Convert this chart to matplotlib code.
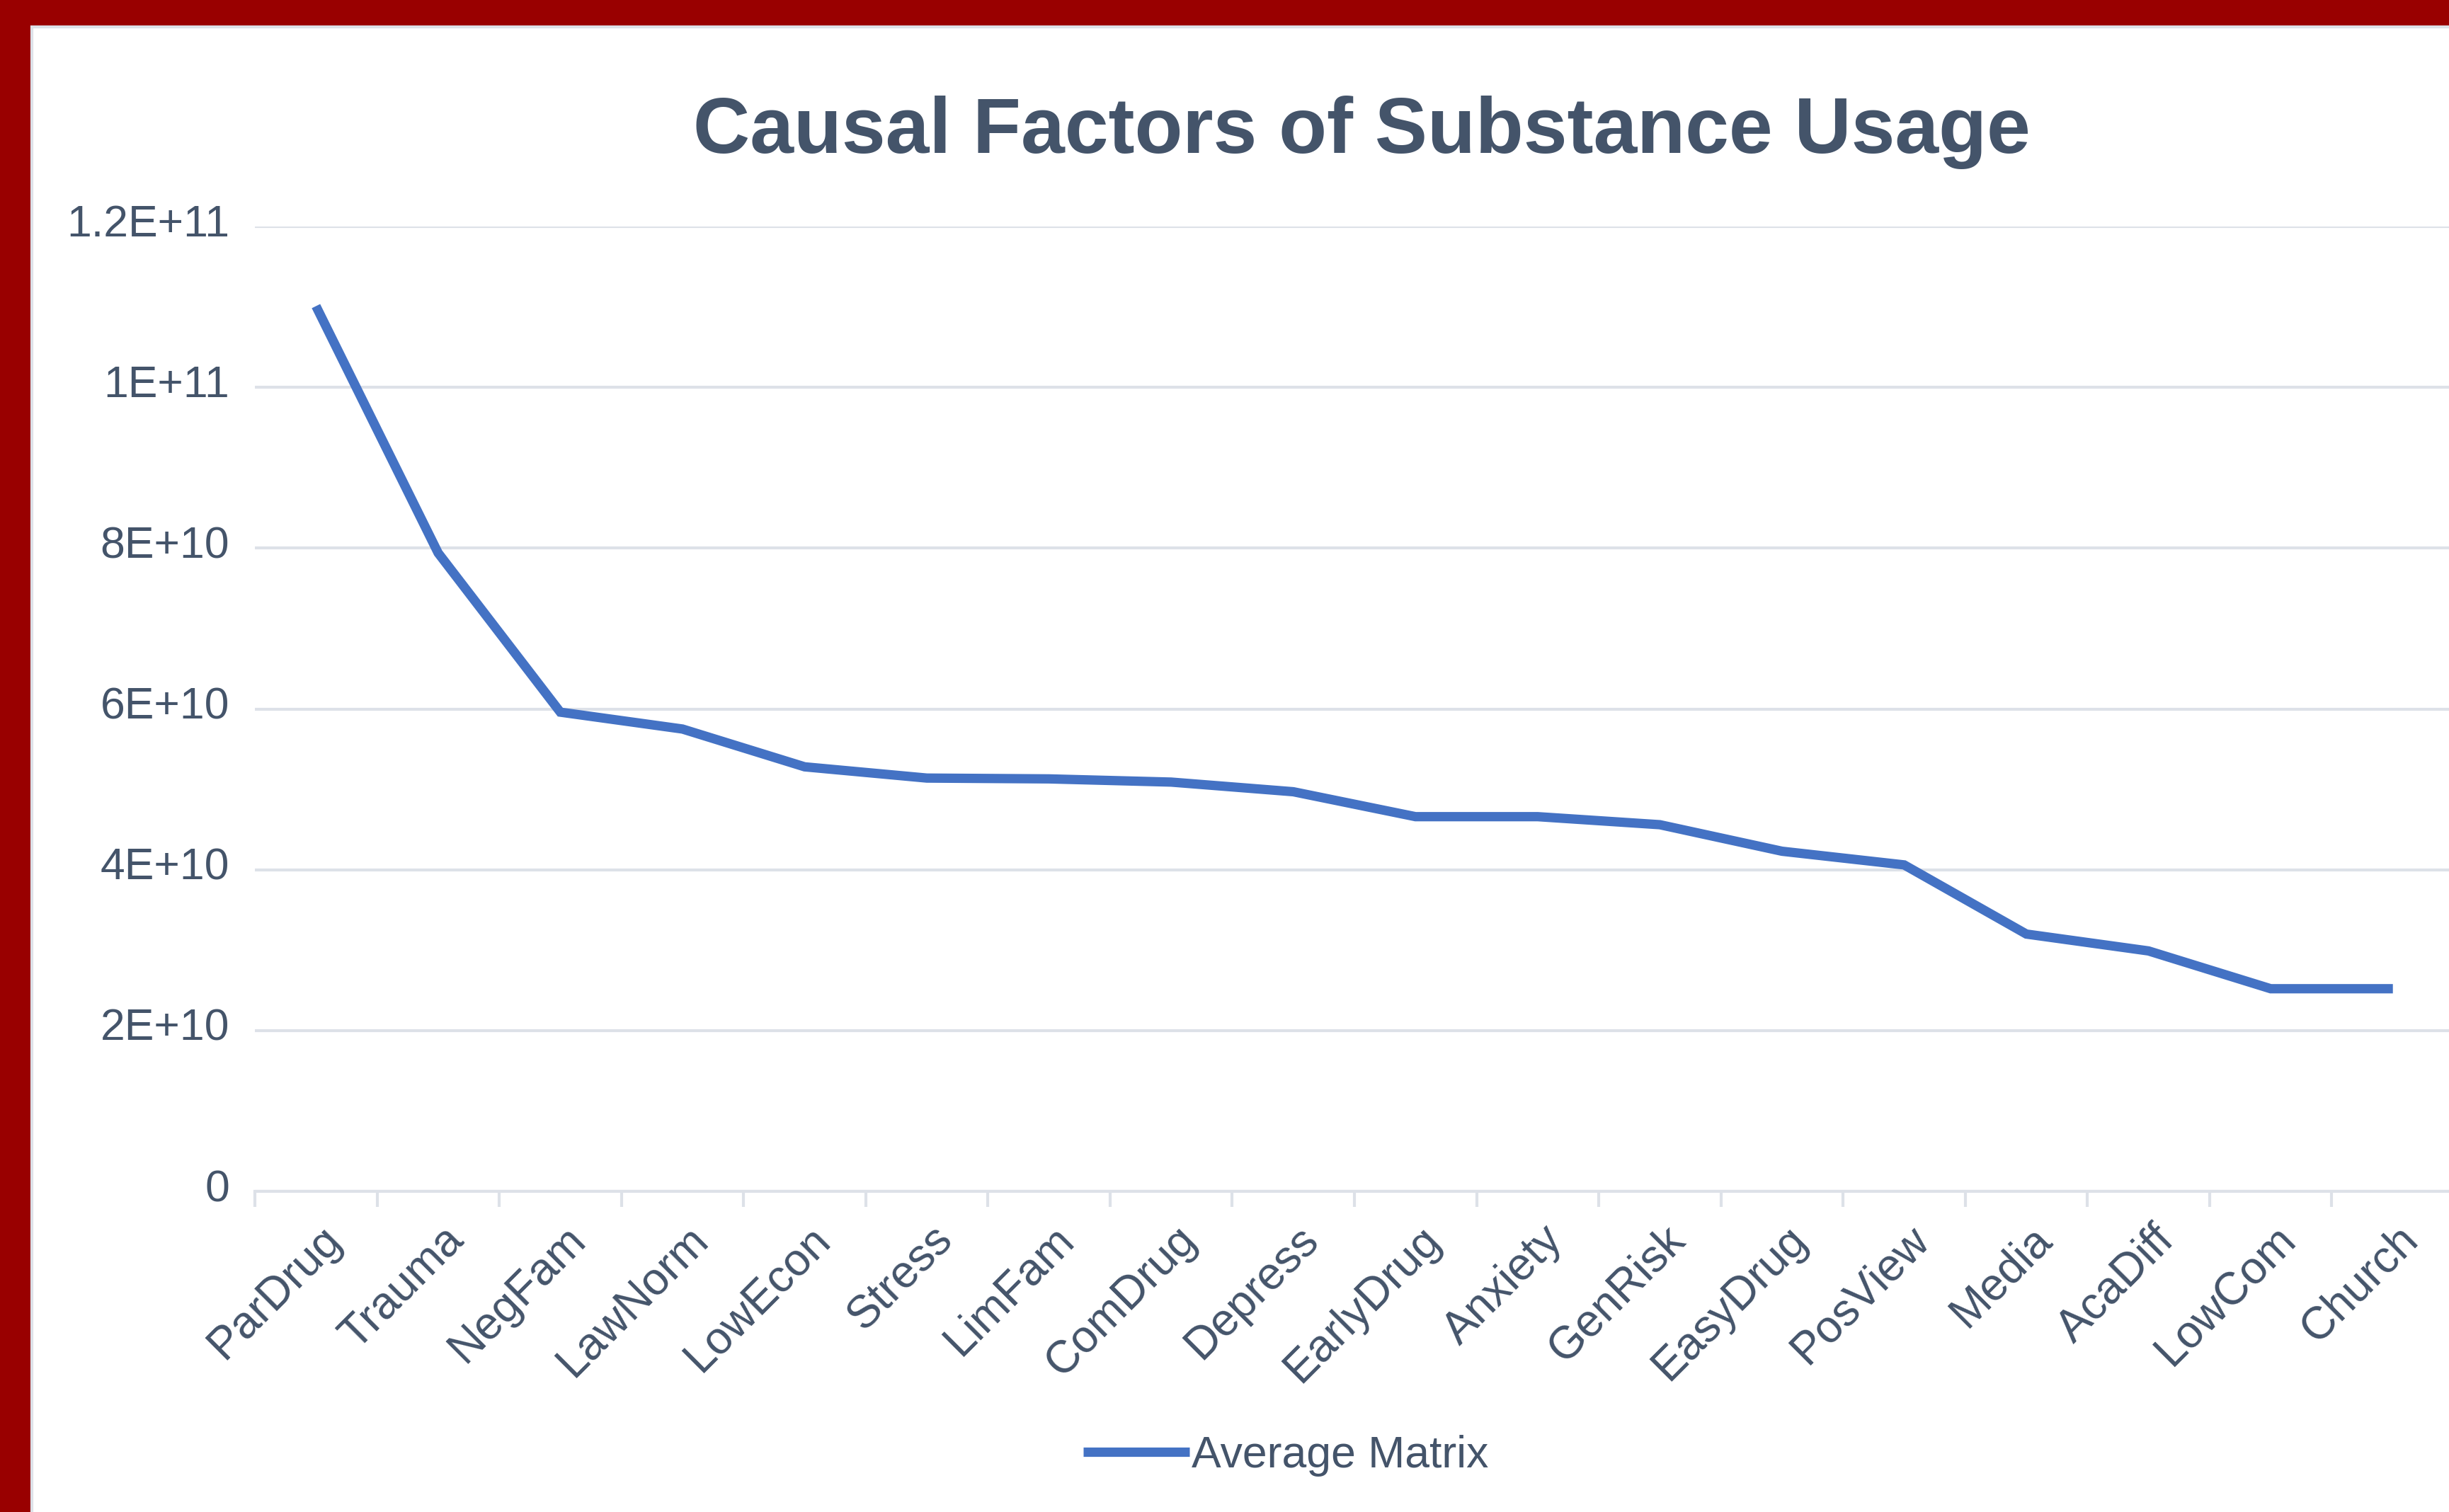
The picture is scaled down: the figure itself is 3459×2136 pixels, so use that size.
import matplotlib
matplotlib.use('Agg')
import matplotlib.pyplot as plt
import numpy as np
from matplotlib.patches import Rectangle
from matplotlib.transforms import ScaledTranslation

# causal factors, ordered as in the chart
factors = ['ParDrug', 'Trauma', 'NegFam', 'LawNorm', 'LowEcon', 'Stress', 'LimFam', 'ComDrug',
           'Depress', 'EarlyDrug', 'Anxiety', 'GenRisk', 'EasyDrug', 'PosView', 'Media',
           'AcaDiff', 'LowCom', 'Church']
average_matrix = [1.101e11, 7.94e10, 5.96e10, 5.75e10, 5.28e10, 5.14e10, 5.13e10, 5.09e10,
                  4.97e10, 4.66e10, 4.66e10, 4.56e10, 4.23e10, 4.06e10, 3.20e10,
                  2.99e10, 2.52e10, 2.52e10]
y_ticks = [0, 2e10, 4e10, 6e10, 8e10, 1e11, 1.2e11]
y_tick_labels = ['0', '2E+10', '4E+10', '6E+10', '8E+10', '1E+11', '1.2E+11']

text_col = '#44546A'
grid_col = '#DDE1E8'
line_col = '#4472C4'
plt.rcParams['font.family'] = ['Liberation Sans', 'DejaVu Sans']

W, H = 3459, 2136
fig = plt.figure(figsize=(W / 100, H / 100), dpi=100)
fig.patch.set_facecolor('#990000')
# white chart panel inside the red frame
fig.add_artist(Rectangle((45 / W, -0.01), 1.0, 1 - 38 / H + 0.01, transform=fig.transFigure,
                         facecolor='white', edgecolor=grid_col, linewidth=3, zorder=0))

ax = fig.add_axes([360 / W, 1 - 1683 / H, (3466 - 360) / W, (1683 - 320) / H])
ax.set_facecolor('none')
x = np.arange(len(factors))
ax.plot(x, average_matrix, color=line_col, linewidth=9.5, solid_joinstyle='miter',
        solid_capstyle='butt', label='Average Matrix', zorder=3)

ax.set_xlim(-0.5, len(factors) - 0.5)
ax.set_ylim(0, 1.2e11)
ax.set_yticks(y_ticks)
ax.set_yticklabels(y_tick_labels)
ax.grid(axis='y', color=grid_col, linewidth=3)
for s in ['left', 'right', 'top']:
	ax.spines[s].set_visible(False)
ax.spines['bottom'].set_color(grid_col)
ax.spines['bottom'].set_linewidth(3)

ax.set_xticks(x)
ax.set_xticklabels(factors, rotation=45, ha='right', rotation_mode='anchor')
ax.set_xticks(np.arange(-0.5, len(factors) + 0.5, 1), minor=True)
ax.tick_params(axis='x', which='major', length=0, pad=27, labelsize=46, labelcolor=text_col)
ax.tick_params(axis='x', which='minor', length=16, width=3, color=grid_col)
ax.tick_params(axis='y', length=0, pad=26, labelsize=45, labelcolor=text_col)

for lab in ax.get_xticklabels():
	lab.set_transform(lab.get_transform() + ScaledTranslation(0.05, 0, fig.dpi_scale_trans))
for lab in ax.get_yticklabels():
	lab.set_transform(lab.get_transform() + ScaledTranslation(0, 0.09, fig.dpi_scale_trans))

fig.text(0.556, 1 - 216 / H, 'Causal Factors of Substance Usage', ha='center', va='baseline',
         fontsize=80, fontweight='bold', color=text_col)

fig.legend(loc='center', bbox_to_anchor=(0.525, 1 - 2056 / H), frameon=False, fontsize=45,
           handlelength=2.4, handletextpad=0.05, labelcolor=text_col)

fig.savefig('out.png', dpi=100, facecolor=fig.get_facecolor())
